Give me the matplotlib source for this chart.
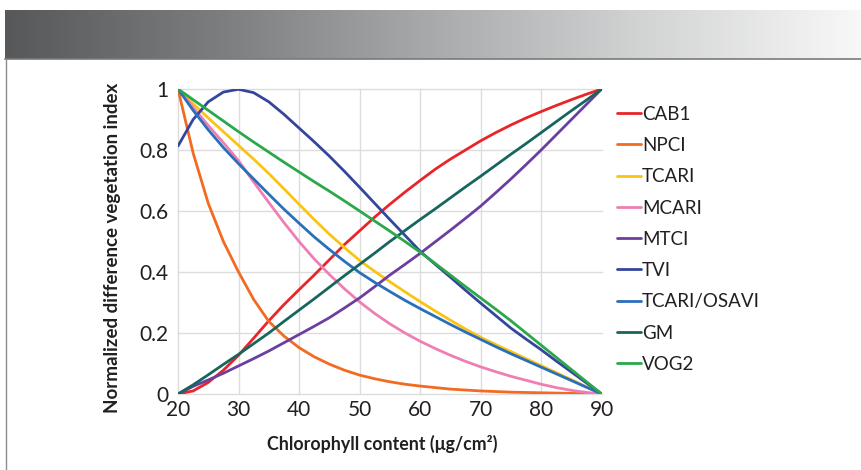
import numpy as np
import matplotlib.pyplot as plt
from matplotlib.colors import LinearSegmentedColormap
from matplotlib.lines import Line2D

plt.rcParams['font.family'] = ['Lato', 'DejaVu Sans']

# chlorophyll content, µg/cm2
chl = [20, 22.5, 25, 27.5, 30, 32.5, 35, 37.5, 40, 42.5, 45, 47.5, 50, 52.5, 55,
       57.5, 60, 62.5, 65, 67.5, 70, 72.5, 75, 77.5, 80, 82.5, 85, 87.5, 90]

cab1 = [0, 0.01, 0.038, 0.078, 0.127, 0.183, 0.24, 0.293, 0.342, 0.39, 0.44, 0.49, 0.535, 0.58, 0.622,
        0.662, 0.70, 0.737, 0.77, 0.80, 0.83, 0.857, 0.882, 0.905, 0.926, 0.946, 0.965, 0.983, 1.0]
npci = [1.0, 0.79, 0.625, 0.50, 0.40, 0.31, 0.238, 0.19, 0.152, 0.122, 0.098, 0.078, 0.062, 0.05, 0.04,
        0.032, 0.026, 0.021, 0.016, 0.013, 0.01, 0.008, 0.006, 0.005, 0.004, 0.003, 0.002, 0.001, 0]
tcari = [1.0, 0.952, 0.905, 0.86, 0.815, 0.77, 0.723, 0.673, 0.622, 0.572, 0.524, 0.48, 0.438, 0.402, 0.368,
         0.335, 0.303, 0.272, 0.242, 0.213, 0.186, 0.162, 0.139, 0.116, 0.093, 0.07, 0.047, 0.023, 0]
mcari = [1.0, 0.94, 0.88, 0.824, 0.765, 0.695, 0.628, 0.562, 0.50, 0.443, 0.392, 0.345, 0.302, 0.264, 0.23,
         0.2, 0.173, 0.149, 0.127, 0.107, 0.089, 0.073, 0.058, 0.045, 0.032, 0.021, 0.012, 0.005, 0]
mtci = [0, 0.025, 0.046, 0.068, 0.092, 0.116, 0.141, 0.168, 0.195, 0.222, 0.25, 0.282, 0.315, 0.352, 0.39,
        0.425, 0.461, 0.499, 0.537, 0.576, 0.616, 0.66, 0.705, 0.752, 0.80, 0.85, 0.90, 0.95, 1.0]
tvi = [0.813, 0.9, 0.958, 0.99, 0.999, 0.988, 0.958, 0.917, 0.872, 0.827, 0.78, 0.73, 0.678, 0.625, 0.572,
       0.52, 0.468, 0.425, 0.383, 0.34, 0.298, 0.257, 0.216, 0.18, 0.145, 0.108, 0.072, 0.036, 0]
tcari_osavi = [1.0, 0.93, 0.866, 0.808, 0.755, 0.705, 0.655, 0.606, 0.56, 0.515, 0.474, 0.435, 0.398, 0.366, 0.336,
               0.307, 0.28, 0.254, 0.228, 0.203, 0.179, 0.155, 0.132, 0.11, 0.088, 0.066, 0.044, 0.022, 0]
gm = [0, 0.03, 0.063, 0.097, 0.13, 0.165, 0.2, 0.238, 0.275, 0.312, 0.35, 0.388, 0.425, 0.462, 0.5,
      0.536, 0.572, 0.607, 0.643, 0.679, 0.714, 0.75, 0.786, 0.821, 0.857, 0.893, 0.929, 0.964, 1.0]
vog2 = [1.0, 0.965, 0.93, 0.895, 0.86, 0.826, 0.793, 0.76, 0.728, 0.696, 0.665, 0.633, 0.6, 0.567, 0.534,
        0.5, 0.465, 0.428, 0.39, 0.352, 0.315, 0.278, 0.24, 0.2, 0.16, 0.12, 0.08, 0.04, 0]

names = ['CAB1', 'NPCI', 'TCARI', 'MCARI', 'MTCI', 'TVI', 'TCARI/OSAVI', 'GM', 'VOG2']
series = [cab1, npci, tcari, mcari, mtci, tvi, tcari_osavi, gm, vog2]
colors = ['#e8262a', '#f26b21', '#fbc314', '#ee7fb4', '#6b3fa0',
          '#34469c', '#2a6fba', '#17665e', '#2aa84a']

W, H = 862, 470
fig = plt.figure(figsize=(W / 100, H / 100), dpi=100)

# grey banner across the top
band = fig.add_axes([5 / W, 1 - 59 / H, 1 - 5 / W, 49 / H])
grad = LinearSegmentedColormap.from_list('band', ['#57585a', '#7c7d7f', '#a9aaac', '#d3d4d4', '#f8f8f8'])
band.imshow(np.linspace(0, 1, 512)[None, :], aspect='auto', cmap=grad, extent=[0, 1, 0, 1])
band.axis('off')
fig.add_artist(Line2D([5 / W, 1], [1 - 59.5 / H] * 2, color='#7a7a7a', lw=1.2))
fig.add_artist(Line2D([6 / W] * 2, [0, 1 - 59.5 / H], color='#8c8c8c', lw=1.0))

ax = fig.add_axes([178 / W, 1 - 394 / H, 423.7 / W, 305 / H])
for name, ys, c in zip(names, series, colors):
    ax.plot(chl, ys, color=c, lw=2.0, label=name,
            solid_capstyle='round', solid_joinstyle='round')

ax.set_xlim(20, 90)
ax.set_ylim(0, 1)
ax.set_xticks(range(20, 91, 10))
ax.set_yticks([0, 0.2, 0.4, 0.6, 0.8, 1])
ax.set_yticklabels(['0', '0.2', '0.4', '0.6', '0.8', '1'])
ax.grid(True, color='#dcdcdc', lw=1.0)
ax.set_axisbelow(True)
ax.get_xgridlines()[-1].set_visible(False)
for gl in ax.get_xgridlines() + ax.get_ygridlines():
    gl.set_clip_on(False)
for s in ax.spines.values():
    s.set_visible(False)
ax.tick_params(length=0, labelsize=15, colors='#231f20')
ax.tick_params(axis='y', pad=7)
ax.tick_params(axis='x', pad=4)

ax.set_xlabel('Chlorophyll content (μg/cm²)', fontsize=12.8, fontweight='bold', color='#231f20')
ax.xaxis.set_label_coords(0.483, -0.135)
ax.set_ylabel('Normalized difference vegetation index', fontsize=13.5, fontweight='bold', color='#231f20')
ax.yaxis.set_label_coords(-0.135, 0.48)

leg = ax.legend(loc='upper left', bbox_to_anchor=(1.035, 0.945), frameon=False,
                fontsize=13.5, handlelength=1.3, handletextpad=0.05,
                labelspacing=0.76, borderaxespad=0, borderpad=0)
for t in leg.get_texts():
    t.set_color('#231f20')
for h in leg.get_lines():
    h.set_linewidth(2.0)

fig.savefig('out.png', dpi=100)
